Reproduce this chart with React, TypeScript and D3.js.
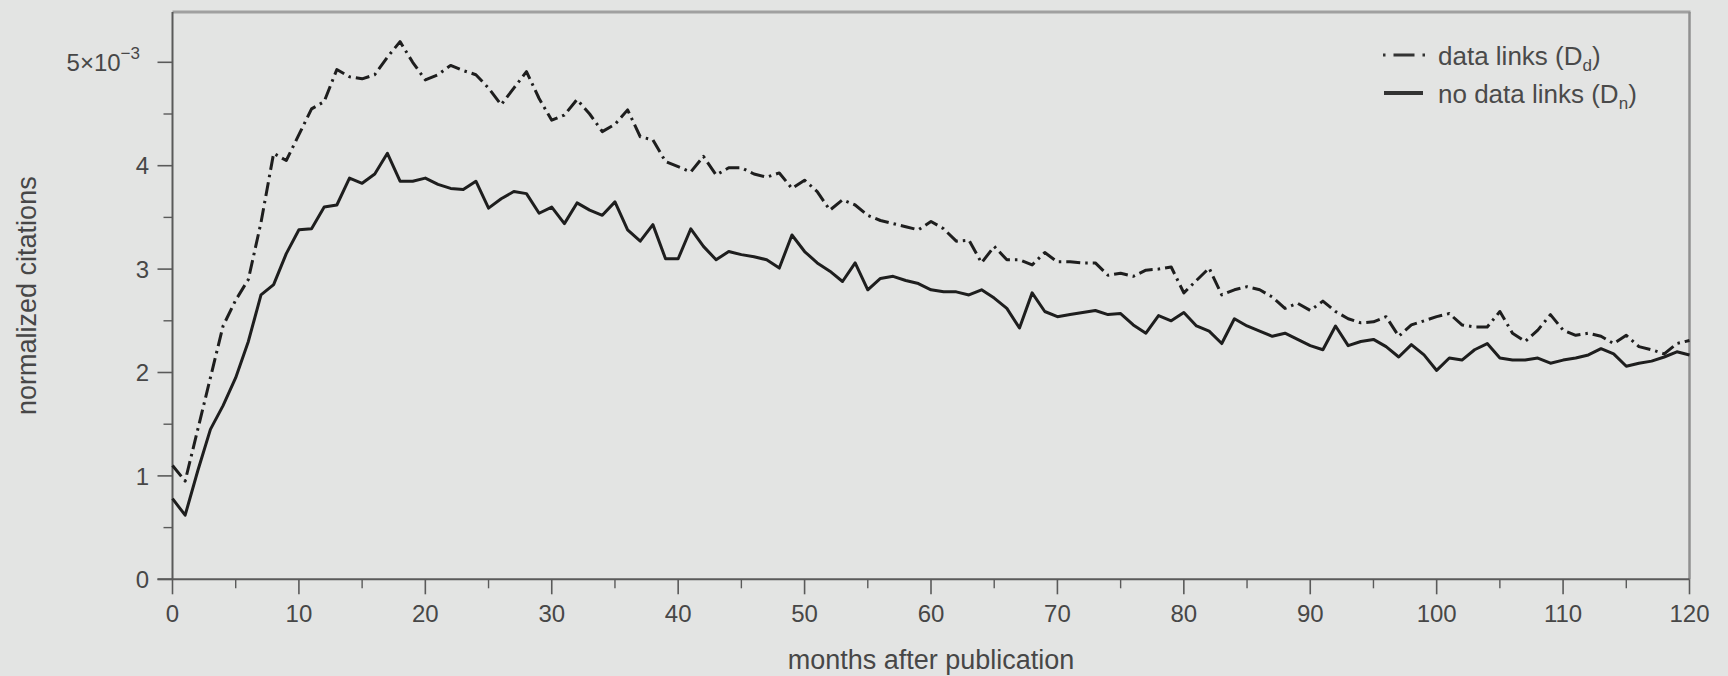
import React from "react";
import * as d3 from "d3";

const months: number[] = Array.from({ length: 121 }, (_, i) => i);

const dataLinks: number[] = [
  1.10, 0.95, 1.45, 1.95, 2.45, 2.70, 2.90, 3.45, 4.12, 4.05,
  4.30, 4.55, 4.62, 4.93, 4.86, 4.84, 4.88, 5.05, 5.20, 5.00,
  4.83, 4.88, 4.97, 4.92, 4.88, 4.75, 4.59, 4.75, 4.91, 4.65,
  4.44, 4.49, 4.64, 4.50, 4.33, 4.40, 4.54, 4.28, 4.25, 4.04,
  3.99, 3.94, 4.09, 3.91, 3.98, 3.98, 3.92, 3.89, 3.93, 3.78,
  3.86, 3.75, 3.57, 3.67, 3.62, 3.52, 3.47, 3.44, 3.41, 3.38,
  3.46, 3.39, 3.27, 3.28, 3.06, 3.22, 3.09, 3.09, 3.04, 3.16,
  3.07, 3.07, 3.06, 3.06, 2.94, 2.96, 2.93, 2.99, 3.00, 3.02,
  2.77, 2.89, 3.01, 2.75, 2.80, 2.83, 2.80, 2.73, 2.62, 2.67,
  2.60, 2.69, 2.59, 2.52, 2.48, 2.49, 2.54, 2.35, 2.46, 2.50,
  2.54, 2.57, 2.46, 2.44, 2.44, 2.59, 2.38, 2.30, 2.41, 2.56,
  2.41, 2.36, 2.38, 2.35, 2.28, 2.36, 2.25, 2.22, 2.18, 2.28,
  2.31,
];

const noDataLinks: number[] = [
  0.78, 0.62, 1.05, 1.45, 1.68, 1.95, 2.30, 2.75, 2.85, 3.15,
  3.38, 3.39, 3.60, 3.62, 3.88, 3.83, 3.92, 4.12, 3.85, 3.85,
  3.88, 3.82, 3.78, 3.77, 3.85, 3.59, 3.68, 3.75, 3.73, 3.54,
  3.60, 3.44, 3.64, 3.57, 3.52, 3.65, 3.38, 3.27, 3.43, 3.10,
  3.10, 3.39, 3.22, 3.09, 3.17, 3.14, 3.12, 3.09, 3.01, 3.33,
  3.17, 3.06, 2.98, 2.88, 3.06, 2.80, 2.91, 2.93, 2.89, 2.86,
  2.80, 2.78, 2.78, 2.75, 2.80, 2.72, 2.62, 2.43, 2.77, 2.59,
  2.54, 2.56, 2.58, 2.60, 2.56, 2.57, 2.46, 2.38, 2.55, 2.50,
  2.58, 2.45, 2.40, 2.28, 2.52, 2.45, 2.40, 2.35, 2.38, 2.32,
  2.26, 2.22, 2.45, 2.26, 2.30, 2.32, 2.25, 2.15, 2.27, 2.17,
  2.02, 2.14, 2.12, 2.22, 2.28, 2.14, 2.12, 2.12, 2.14, 2.09,
  2.12, 2.14, 2.17, 2.23, 2.18, 2.06, 2.09, 2.11, 2.15, 2.20,
  2.17,
];

const xMajorTicks: number[] = [0, 10, 20, 30, 40, 50, 60, 70, 80, 90, 100, 110, 120];
const xMinorTicks: number[] = [5, 15, 25, 35, 45, 55, 65, 75, 85, 95, 105, 115];
const yMajorTicks: number[] = [0, 1, 2, 3, 4, 5];
const yMinorTicks: number[] = [0.5, 1.5, 2.5, 3.5, 4.5];

const xTitle = "months after publication";
const yTitle = "normalized citations";
const legendLabels = ["data links (D", "no data links (D"];
const legendSubs = ["d", "n"];

const W = 1728;
const H = 676;
const FONT = "'Liberation Sans', Arial, Helvetica, sans-serif";

export default function App() {
  const x = d3.scaleLinear().domain([0, 120]).range([172.5, 1689.5]);
  const y = d3.scaleLinear().domain([0, 5]).range([579.3, 62.3]);
  const plotTop = 12;

  const line = d3
    .line<number>()
    .x((_, i) => x(months[i]))
    .y((d) => y(d));

  const major = 15;
  const minor = 9;
  const axisColor = "#5a5a5a";
  const textColor = "#474747";

  return (
    <div style={{ position: "absolute", left: 0, top: 0 }}>
      <svg width={W} height={H} style={{ display: "block" }}>
        <rect x={0} y={0} width={W} height={H} fill="#e3e4e3" />

        {/* frame top and right */}
        <line x1={x(0)} x2={x(120) + 1} y1={plotTop} y2={plotTop} stroke="#a0a0a0" strokeWidth={3} />
        <line x1={x(120)} x2={x(120)} y1={plotTop} y2={y(0)} stroke="#909090" strokeWidth={2.5} />

        {/* axes */}
        <line x1={x(0)} x2={x(0)} y1={plotTop} y2={y(0)} stroke={axisColor} strokeWidth={2} />
        <line x1={x(0) - major} x2={x(120)} y1={y(0)} y2={y(0)} stroke={axisColor} strokeWidth={2} />

        {xMajorTicks.map((t) => (
          <g key={"xM" + t}>
            <line x1={x(t)} x2={x(t)} y1={y(0)} y2={y(0) + major} stroke={axisColor} strokeWidth={1.6} />
            <text x={x(t)} y={622} textAnchor="middle" fontFamily={FONT} fontSize={24} fill={textColor}>
              {t}
            </text>
          </g>
        ))}
        {xMinorTicks.map((t) => (
          <line key={"xm" + t} x1={x(t)} x2={x(t)} y1={y(0)} y2={y(0) + minor} stroke={axisColor} strokeWidth={1.4} />
        ))}

        {yMajorTicks.map((t) => (
          <g key={"yM" + t}>
            <line x1={x(0) - major} x2={x(0)} y1={y(t)} y2={y(t)} stroke={axisColor} strokeWidth={1.6} />
            {t === 5 ? (
              <text x={140} y={y(t)} dy="0.36em" textAnchor="end" fontFamily={FONT} fontSize={24} fill={textColor}>
                5×10
                <tspan fontSize={17} dy={-12}>−3</tspan>
              </text>
            ) : (
              <text x={149} y={y(t)} dy="0.36em" textAnchor="end" fontFamily={FONT} fontSize={24} fill={textColor}>
                {t}
              </text>
            )}
          </g>
        ))}
        {yMinorTicks.map((t) => (
          <line key={"ym" + t} x1={x(0) - minor} x2={x(0)} y1={y(t)} y2={y(t)} stroke={axisColor} strokeWidth={1.4} />
        ))}

        {/* series */}
        <path d={line(noDataLinks) || ""} fill="none" stroke="#1e1e1e" strokeWidth={3} strokeLinejoin="round" />
        <path
          d={line(dataLinks) || ""}
          fill="none"
          stroke="#1e1e1e"
          strokeWidth={3}
          strokeDasharray="14 5 2.5 5"
          strokeLinejoin="round"
        />

        {/* axis titles */}
        <text x={(x(0) + x(120)) / 2} y={669} textAnchor="middle" fontFamily={FONT} fontSize={27} fill={textColor}>
          {xTitle}
        </text>
        <text
          x={36}
          y={(plotTop + y(0)) / 2}
          textAnchor="middle"
          transform={`rotate(-90, 36, ${(plotTop + y(0)) / 2})`}
          fontFamily={FONT}
          fontSize={27}
          fill={textColor}
        >
          {yTitle}
        </text>

        {/* legend */}
        <line x1={1383} x2={1425} y1={55} y2={55} stroke="#333" strokeWidth={3} strokeDasharray="2.5 8 21 8 2.5" />
        <line x1={1384} x2={1423} y1={93} y2={93} stroke="#333" strokeWidth={4} />
        {legendLabels.map((lab, i) => (
          <text key={lab} x={1438} y={65 + i * 38} fontFamily={FONT} fontSize={26} fill="#4a4a4a">
            {lab}
            <tspan fontSize={17} dy={6}>{legendSubs[i]}</tspan>
            <tspan dy={-6}>)</tspan>
          </text>
        ))}
      </svg>
    </div>
  );
}
